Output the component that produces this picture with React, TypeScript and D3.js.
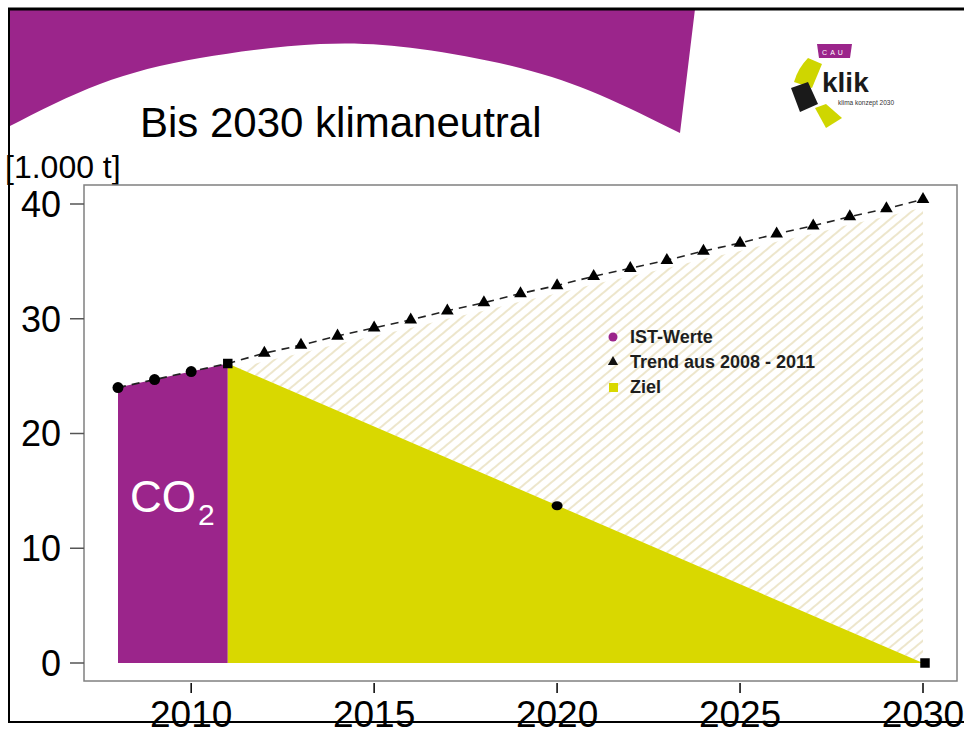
import React from "react";
import * as d3 from "d3";

// measured values (1.000 t CO2)
const istYears = [2008, 2009, 2010, 2011];
const istValues = [24.0, 24.7, 25.4, 26.1];

const trendYears = [2012, 2013, 2014, 2015, 2016, 2017, 2018, 2019, 2020, 2021, 2022, 2023, 2024, 2025, 2026, 2027, 2028, 2029, 2030];
const trendValues = [27.0, 27.7, 28.5, 29.2, 29.9, 30.7, 31.4, 32.2, 32.9, 33.7, 34.4, 35.1, 35.9, 36.6, 37.4, 38.1, 38.9, 39.6, 40.4];

const zielYears = [2011, 2030];
const zielValues = [26.1, 0];
const zielMarkYear = 2020;
const zielMarkValue = 13.7;

const xTicks = [2010, 2015, 2020, 2025, 2030];
const yTicks = [0, 10, 20, 30, 40];

const legendItems = ["IST-Werte", "Trend aus 2008 - 2011", "Ziel"];

const PURPLE = "#9b258b";
const YELLOW = "#d9d800";
const FONT = "'Liberation Sans', Arial, sans-serif";

const W = 964;
const H = 729;
const box = { left: 84, top: 185, right: 957, bottom: 681 };

export default function App() {
  const x = d3.scaleLinear().domain([2008, 2030]).range([118, 923]);
  const y = d3.scaleLinear().domain([0, 40]).range([663, 204]);

  const ist = istYears.map((yr, i) => ({ yr, v: istValues[i] }));
  const trend = trendYears.map((yr, i) => ({ yr, v: trendValues[i] }));
  const ziel = zielYears.map((yr, i) => ({ yr, v: zielValues[i] }));
  const all = [...ist, ...trend];

  const line = d3.line<{ yr: number; v: number }>().x((d) => x(d.yr)).y((d) => y(d.v));
  const area = d3
    .area<{ yr: number; v: number }>()
    .x((d) => x(d.yr))
    .y0(y(0))
    .y1((d) => y(d.v));

  // hatched band between the trend and the target line
  const zielAt = (yr: number) => d3.scaleLinear().domain(zielYears).range(zielValues)(yr);
  const band = [{ yr: 2011, v: 26.1 }, ...trend];
  const hatch = d3
    .area<{ yr: number; v: number }>()
    .x((d) => x(d.yr))
    .y0((d) => y(zielAt(d.yr)))
    .y1((d) => y(d.v) + 8);

  // decorative purple arc in the header
  const arcPts: [number, number][] = [
    [8, 127], [100, 84], [200, 58], [320, 44], [420, 49], [520, 68], [600, 95], [680, 133],
  ];
  const arcPath = d3.line().curve(d3.curveNatural)(arcPts) + " L695,9 L8,9 Z";

  const tri = d3.symbol().type(d3.symbolTriangle).size(70)();
  const sq = d3.symbol().type(d3.symbolSquare).size(90)();

  return (
    <svg width={W} height={H} style={{ position: "absolute", left: 0, top: 0, background: "#fff" }}>
      <defs>
        <pattern id="hatch" width="8" height="8" patternUnits="userSpaceOnUse" patternTransform="rotate(50)">
          <line x1="4" y1="0" x2="4" y2="8" stroke="#e6dcb6" strokeWidth="1.4" />
        </pattern>
      </defs>

      {/* header */}
      <path d={arcPath} fill={PURPLE} />
      <text x={140} y={137} fontFamily={FONT} fontSize={42} fill="#000">Bis 2030 klimaneutral</text>

      {/* logo */}
      <g>
        <path d="M817,44 L852,44 L850,58 L819,58 Z" fill={PURPLE} />
        <text x={834} y={55} fontFamily={FONT} fontSize={7} fill="#fff" textAnchor="middle" letterSpacing="3">CAU</text>
        <path d="M808,58 L822,64 L812,88 L794,82 Q798,68 808,58 Z" fill="#cfd600" />
        <path d="M791,88 L808,82 L818,104 L800,112 Z" fill="#1a1a1a" />
        <path d="M815,108 L826,104 L842,118 L826,128 Z" fill="#cfd600" />
        <text x={822} y={92} fontFamily={FONT} fontWeight="bold" fontSize={28} fill="#1a1a1a">klik</text>
        <text x={838} y={105} fontFamily={FONT} fontSize={6.5} fill="#333">klima konzept 2030</text>
      </g>

      <text x={5} y={178} fontFamily={FONT} fontSize={32} fill="#000">[1.000 t]</text>

      {/* plot box */}
      <rect x={box.left} y={box.top} width={box.right - box.left} height={box.bottom - box.top} fill="#fff" stroke="#808080" strokeWidth={1.5} />

      {/* hatched band */}
      <path d={hatch(band) ?? ""} fill="url(#hatch)" />

      {/* IST area */}
      <path d={area(ist) ?? ""} fill={PURPLE} />
      {/* target area */}
      <path d={area(ziel) ?? ""} fill={YELLOW} />

      <text fontFamily={FONT} fill="#fff" x={130} y={512}>
        <tspan fontSize={44}>CO</tspan>
        <tspan fontSize={30} dy={13} dx={2}>2</tspan>
      </text>

      {/* trend dashed line */}
      <path d={line(all) ?? ""} fill="none" stroke="#222" strokeWidth={1.6} strokeDasharray="8,6" />

      {ist.slice(0, 3).map((d) => (
        <circle key={d.yr} cx={x(d.yr)} cy={y(d.v)} r={5.5} fill="#000" />
      ))}
      <path d={sq ?? ""} transform={`translate(${x(2011)},${y(26.1)})`} fill="#000" />
      {trend.map((d) => (
        <path key={d.yr} d={tri ?? ""} transform={`translate(${x(d.yr)},${y(d.v)})`} fill="#000" />
      ))}
      <ellipse cx={x(zielMarkYear)} cy={y(zielMarkValue)} rx={5.5} ry={4.5} fill="#000" />
      <path d={sq ?? ""} transform={`translate(${x(2030) + 2},${y(0)})`} fill="#000" />

      {/* legend */}
      <g fontFamily={FONT} fontWeight="bold" fontSize={18} fill="#1e1e1e">
        <circle cx={613} cy={337} r={4.5} fill={PURPLE} />
        <text x={630} y={343}>{legendItems[0]}</text>
        <path d={d3.symbol().type(d3.symbolTriangle).size(45)() ?? ""} transform="translate(613,362)" fill="#111" />
        <text x={630} y={368}>{legendItems[1]}</text>
        <rect x={609} y={383} width={9} height={9} fill={YELLOW} />
        <text x={630} y={393}>{legendItems[2]}</text>
      </g>

      {/* y axis */}
      {yTicks.map((t) => (
        <g key={t}>
          <line x1={70} x2={box.left} y1={y(t)} y2={y(t)} stroke="#555" strokeWidth={1.5} />
          <text x={61} y={y(t)} dy="0.36em" textAnchor="end" fontFamily={FONT} fontSize={36} fill="#000">{t}</text>
        </g>
      ))}

      {/* x axis */}
      {xTicks.map((t) => (
        <g key={t}>
          <line x1={x(t)} x2={x(t)} y1={box.bottom + 2} y2={box.bottom + 12} stroke="#000" strokeWidth={1.5} />
          <text x={x(t)} y={727} textAnchor="middle" fontFamily={FONT} fontSize={37} fill="#000">{t}</text>
        </g>
      ))}

      {/* slide frame */}
      <line x1={8} x2={W} y1={9} y2={9} stroke="#000" strokeWidth={3} />
      <line x1={9} x2={9} y1={8} y2={723} stroke="#000" strokeWidth={2} />
      <line x1={8} x2={W} y1={722} y2={722} stroke="#000" strokeWidth={2} />
    </svg>
  );
}
